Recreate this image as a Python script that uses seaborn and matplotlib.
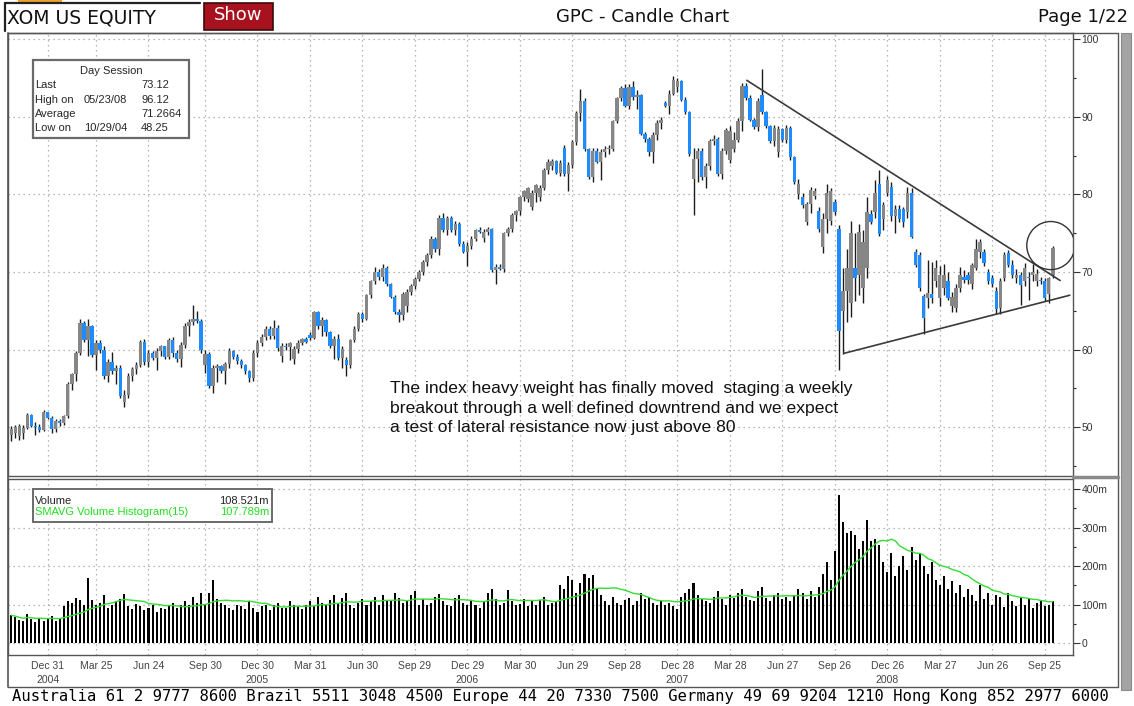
import matplotlib
matplotlib.use("Agg")
import matplotlib.pyplot as plt
from matplotlib.lines import Line2D
from matplotlib.patches import Rectangle, Ellipse
import numpy as np
import pandas as pd
import seaborn as sns

# weekly XOM candles, week 0 = 29 Oct 2004
open_ = [
    49.0, 49.2, 48.9, 49.3, 49.9, 51.5, 50.2, 50.0, 49.6, 51.9,
    51.2, 49.8, 50.8, 50.5, 51.4, 55.5, 56.8, 59.5, 63.4, 61.2,
    63.0, 59.3, 60.8, 59.9, 56.6, 58.4, 57.2, 57.6, 53.2, 54.2,
    56.6, 57.5, 58.0, 61.0, 58.4, 59.6, 58.9, 59.8, 60.4, 59.0,
    61.2, 59.6, 58.8, 60.6, 63.0, 63.6, 64.0, 63.7, 58.0, 59.4,
    55.3, 57.6, 57.9, 57.2, 58.2, 59.8, 59.1, 58.5, 58.0, 57.2,
    56.3, 59.6, 60.9, 61.6, 62.7, 61.7, 62.8, 59.2, 60.4, 60.3,
    58.8, 60.1, 60.9, 61.3, 61.9, 61.5, 64.8, 63.0, 63.8, 62.2,
    60.5, 61.4, 58.9, 58.7, 58.0, 61.2, 62.6, 64.6, 64.0, 67.0,
    68.8, 70.0, 69.3, 70.5, 68.4, 66.8, 64.8, 64.4, 65.6, 67.4,
    68.2, 69.1, 70.0, 71.3, 72.2, 74.3, 73.0, 77.0, 75.4, 76.9,
    75.4, 76.2, 73.6, 72.6, 73.4, 74.3, 75.4, 74.4, 75.2, 75.5,
    70.2, 70.6, 70.4, 75.0, 75.6, 77.3, 77.8, 79.6, 79.4, 78.4,
    80.2, 79.6, 80.8, 83.2, 83.6, 84.3, 82.8, 86.0, 82.6, 83.8,
    86.8, 90.5, 92.0, 85.8, 82.2, 85.6, 84.2, 85.4, 85.8, 85.9,
    89.4, 92.4, 93.7, 91.4, 93.9, 92.5, 92.8, 87.8, 87.2, 85.4,
    87.6, 89.2, 91.8, 91.4, 93.0, 93.8, 94.6, 92.2, 90.6, 82.0,
    84.6, 85.6, 82.2, 83.6, 86.9, 87.2, 82.6, 85.6, 84.4, 85.8,
    87.0, 89.4, 94.0, 92.4, 89.6, 88.7, 92.8, 90.6, 88.8, 86.9,
    85.4, 88.4, 87.0, 88.6, 84.8, 80.0, 79.6, 76.4, 78.8, 79.8,
    77.9, 73.2, 76.8, 76.6, 79.0, 75.6, 65.0, 67.5, 66.0, 70.5,
    69.6, 67.9, 70.5, 77.5, 77.7, 81.3, 76.8, 80.2, 81.0, 77.2,
    78.1, 78.1, 77.7, 80.2, 72.6, 72.2, 66.9, 66.7, 67.1, 68.8,
    66.7, 67.9, 68.8, 65.6, 65.4, 67.9, 69.4, 69.6, 68.4, 70.5,
    72.6, 72.6, 70.0, 69.2, 67.5, 65.4, 69.2, 72.4, 70.9, 69.2,
    69.6, 68.8, 69.4, 69.6, 68.8, 69.0, 68.8, 67.1, 69.6,
]
high = [
    50.2, 50.3, 50.4, 50.3, 51.8, 51.7, 50.6, 50.4, 52.2, 52.0,
    51.4, 51.0, 51.1, 51.6, 55.8, 57.0, 59.8, 64.0, 63.7, 64.0,
    63.2, 61.2, 61.2, 60.4, 58.8, 59.7, 58.0, 58.0, 54.8, 57.0,
    57.8, 58.4, 61.2, 61.3, 60.0, 59.8, 60.2, 60.6, 60.5, 61.5,
    61.6, 59.9, 61.0, 63.4, 64.0, 65.8, 65.0, 63.9, 60.0, 59.7,
    58.0, 58.2, 58.0, 58.4, 60.2, 60.0, 59.4, 58.8, 58.2, 57.4,
    60.0, 61.2, 62.0, 63.0, 63.0, 63.8, 63.2, 60.8, 60.8, 61.0,
    60.4, 61.2, 61.5, 61.6, 62.2, 65.0, 65.0, 64.2, 64.0, 62.4,
    61.8, 62.0, 60.4, 59.0, 61.4, 63.0, 64.8, 64.9, 67.2, 69.0,
    70.6, 70.4, 71.0, 70.8, 68.6, 67.0, 65.2, 67.4, 67.8, 68.4,
    69.4, 70.2, 71.6, 72.4, 74.6, 74.5, 77.4, 77.6, 77.2, 77.2,
    76.6, 76.4, 74.0, 73.8, 74.6, 75.6, 75.8, 75.6, 75.8, 75.7,
    71.0, 71.0, 75.2, 75.8, 77.6, 78.0, 79.8, 80.6, 81.0, 80.6,
    81.4, 81.2, 83.4, 84.6, 84.6, 84.4, 84.4, 86.4, 84.2, 87.0,
    90.8, 93.6, 92.4, 86.0, 86.0, 86.0, 85.8, 86.2, 86.4, 89.6,
    92.6, 94.0, 94.2, 94.2, 94.6, 93.4, 93.0, 88.0, 87.4, 88.0,
    89.6, 90.0, 92.0, 93.4, 95.2, 95.0, 94.8, 92.6, 90.8, 86.0,
    86.0, 86.0, 84.0, 87.2, 87.6, 87.4, 86.0, 88.6, 88.8, 88.0,
    89.8, 94.4, 94.4, 92.8, 89.8, 92.4, 96.12, 90.8, 89.0, 89.0,
    88.8, 88.6, 89.0, 88.8, 85.0, 82.0, 80.2, 79.0, 81.0, 80.8,
    78.4, 77.6, 81.4, 80.8, 79.4, 76.0, 70.5, 73.0, 76.6, 75.0,
    76.2, 75.4, 79.6, 78.0, 81.9, 83.2, 79.0, 82.4, 81.6, 78.6,
    78.6, 78.4, 81.0, 80.8, 73.0, 72.6, 67.2, 71.6, 71.3, 71.6,
    70.8, 71.0, 70.0, 67.4, 68.4, 70.6, 70.2, 70.0, 71.2, 74.3,
    74.2, 73.0, 70.4, 69.6, 68.0, 69.2, 72.6, 72.8, 71.6, 70.4,
    70.0, 71.2, 70.0, 71.0, 70.4, 69.4, 69.2, 69.4, 73.3,
]
low = [
    48.25, 48.6, 48.4, 48.5, 49.7, 50.0, 49.0, 49.4, 49.5, 51.0,
    49.3, 49.4, 50.2, 50.3, 51.2, 54.8, 56.0, 59.3, 61.0, 59.2,
    59.0, 57.4, 59.6, 56.2, 55.8, 56.8, 55.5, 53.8, 52.6, 53.8,
    56.0, 56.8, 57.8, 58.0, 57.8, 58.6, 57.4, 59.2, 58.8, 58.8,
    59.0, 58.4, 57.8, 60.2, 61.8, 63.2, 63.4, 59.6, 57.0, 55.0,
    54.4, 55.8, 57.0, 55.6, 57.6, 58.8, 58.2, 57.6, 56.8, 55.8,
    56.0, 59.0, 60.4, 61.2, 61.4, 61.4, 59.8, 58.4, 60.0, 58.6,
    58.2, 59.6, 60.6, 60.8, 61.2, 61.3, 62.6, 61.8, 61.8, 60.2,
    58.8, 58.6, 57.6, 56.6, 57.6, 61.0, 62.4, 63.6, 63.8, 66.6,
    68.4, 69.0, 68.8, 68.2, 66.6, 64.6, 63.5, 63.8, 64.8, 67.0,
    67.8, 68.8, 69.6, 70.8, 71.8, 72.6, 72.2, 75.2, 74.8, 75.2,
    74.8, 73.4, 72.4, 70.8, 73.0, 74.0, 75.0, 73.8, 74.8, 70.0,
    68.5, 70.2, 70.0, 74.6, 75.2, 76.6, 77.4, 79.2, 79.0, 78.0,
    79.0, 79.2, 80.6, 82.6, 83.2, 82.6, 82.4, 82.4, 80.4, 83.4,
    86.4, 89.4, 85.6, 82.0, 81.6, 84.0, 81.8, 84.8, 85.2, 85.6,
    89.2, 92.0, 91.2, 91.0, 92.2, 91.0, 87.6, 86.8, 85.0, 84.0,
    87.0, 88.4, 91.2, 90.4, 92.8, 93.2, 92.0, 90.4, 85.0, 77.4,
    81.6, 81.8, 80.8, 83.2, 86.4, 82.4, 82.0, 85.2, 84.0, 85.4,
    86.8, 88.2, 92.2, 89.4, 88.4, 88.2, 90.4, 88.6, 86.6, 86.2,
    84.8, 86.8, 86.6, 84.4, 81.4, 79.4, 78.2, 76.0, 77.6, 79.4,
    75.2, 72.4, 75.0, 76.0, 77.4, 57.3, 59.4, 63.5, 64.2, 66.2,
    67.0, 66.0, 69.2, 76.2, 77.0, 74.6, 75.4, 79.8, 76.6, 75.0,
    76.4, 75.8, 77.0, 74.4, 70.6, 67.6, 62.0, 65.4, 66.0, 68.0,
    65.6, 67.0, 66.4, 64.8, 64.8, 67.4, 68.6, 68.4, 67.8, 70.2,
    71.8, 70.8, 68.4, 68.0, 64.6, 64.6, 68.8, 70.6, 69.2, 68.6,
    65.8, 68.2, 66.4, 68.8, 68.2, 68.4, 66.2, 66.0, 69.2,
]
close = [
    49.8, 50.0, 50.1, 49.9, 51.5, 50.2, 50.0, 49.6, 51.9, 51.2,
    49.8, 50.8, 50.5, 51.4, 55.5, 56.8, 59.5, 63.4, 61.2, 63.0,
    59.3, 60.8, 59.9, 56.6, 58.4, 57.2, 57.6, 54.0, 54.2, 56.6,
    57.5, 58.0, 61.0, 58.4, 59.6, 58.9, 59.8, 60.4, 59.0, 61.2,
    59.6, 58.8, 60.6, 63.0, 63.6, 64.0, 63.7, 59.9, 59.4, 55.3,
    57.6, 57.9, 57.2, 58.2, 59.8, 59.1, 58.5, 58.0, 57.2, 56.3,
    59.6, 60.9, 61.6, 62.7, 61.7, 62.8, 60.2, 60.4, 60.3, 60.8,
    60.1, 60.9, 61.3, 61.0, 61.5, 64.8, 63.0, 63.8, 62.2, 60.5,
    61.4, 58.9, 60.1, 58.0, 61.2, 62.6, 64.6, 64.0, 67.0, 68.8,
    70.0, 69.3, 70.5, 68.4, 66.8, 64.8, 64.4, 67.2, 67.4, 68.2,
    69.1, 70.0, 71.3, 72.2, 74.3, 73.0, 77.0, 75.4, 76.9, 75.4,
    76.2, 73.6, 72.6, 73.4, 74.3, 75.4, 75.2, 75.2, 75.5, 70.2,
    70.6, 70.4, 75.0, 75.6, 77.3, 77.8, 79.6, 80.4, 80.8, 80.2,
    81.2, 80.8, 83.2, 84.2, 84.3, 82.8, 84.0, 82.6, 83.8, 86.8,
    90.5, 92.0, 85.8, 82.2, 85.6, 84.2, 85.4, 85.8, 85.9, 89.4,
    92.4, 93.7, 91.4, 93.9, 92.5, 92.8, 87.8, 87.2, 85.4, 87.6,
    89.2, 89.6, 91.4, 93.0, 94.8, 94.6, 92.2, 90.6, 85.2, 84.6,
    85.6, 82.2, 83.6, 86.9, 87.2, 82.6, 85.6, 88.3, 88.2, 87.0,
    89.4, 94.0, 92.4, 89.6, 88.7, 92.0, 90.6, 88.8, 86.9, 88.6,
    88.4, 87.0, 88.6, 84.8, 81.6, 81.4, 78.6, 78.8, 80.6, 80.4,
    75.6, 76.8, 80.2, 80.4, 77.7, 62.4, 67.5, 70.5, 75.0, 69.2,
    75.1, 73.9, 77.7, 76.4, 80.2, 74.9, 78.6, 81.9, 77.2, 78.1,
    76.8, 76.4, 80.2, 74.5, 70.9, 67.9, 64.1, 67.3, 66.7, 70.5,
    69.6, 69.6, 66.7, 66.8, 67.9, 69.6, 69.0, 69.0, 70.9, 73.0,
    73.9, 71.1, 68.8, 68.4, 65.2, 68.8, 72.2, 70.9, 69.6, 69.6,
    68.3, 70.5, 69.2, 70.0, 69.8, 68.8, 66.7, 69.2, 73.12,
]
# weekly volume, millions of shares
volume = [
    72, 68, 60, 58, 75, 62, 55, 66, 58, 62, 70, 56, 64,
    95, 110, 105, 118, 112, 100, 170,
    112, 98, 105, 125, 92, 100, 108, 115, 128, 95, 88, 102, 96,
    85, 90, 98, 80, 92, 88, 95, 105, 90, 100, 110, 98, 120, 105, 130, 100,
    130, 165, 115, 105,
    98, 90, 85, 100, 95, 88, 110, 92, 80, 95, 100, 85, 98, 105, 90, 92, 110, 100, 95, 88,
    100, 110, 95, 120, 105, 98, 112, 125, 105, 118, 130, 100, 92, 105, 115, 98, 110, 120,
    100, 125, 108, 112, 130, 118, 105,
    110, 125, 135, 100, 115, 98, 105, 120, 128,
    110, 100, 95, 118, 125, 105, 98, 110, 100, 92, 108, 130, 140, 115, 100, 105, 138, 110,
    98, 102, 115, 95, 108, 100, 112, 120, 98, 105, 110,
    150, 140, 175, 165, 130, 155, 180, 170, 178, 140, 125,
    110, 100, 120, 105, 98, 112, 118, 100, 108, 130, 115, 120, 105, 98, 110, 100, 105, 95,
    88, 120, 130, 140, 155, 125, 115,
    110, 105, 120, 135, 115, 100, 125, 118, 130, 140, 120, 112, 108, 135, 145, 118, 110,
    125, 130, 115, 120, 110, 125, 140, 130, 115, 135, 120,
    145, 180, 210, 165, 240,
    385, 315, 285, 290, 280, 245, 265, 320, 265, 270, 255, 210, 185, 235, 175, 200, 225,
    190, 250, 215, 235,
    200, 180, 210, 165, 150, 175, 140, 160, 130, 150, 120, 140, 125, 110, 150, 115, 130,
    100, 125, 120, 93, 130, 110, 95, 120, 100, 115, 90, 105, 110, 95, 100, 108.5,
]
assert len(open_) == len(high) == len(low) == len(close) == len(volume) == 259

tick_weeks = [9, 21, 34, 48, 61, 74, 87, 100, 113, 126, 139, 152, 165, 178, 191,
              204, 217, 230, 243, 256]
tick_dates = ["Dec 31", "Mar 25", "Jun 24", "Sep 30", "Dec 30", "Mar 31", "Jun 30",
              "Sep 29", "Dec 29", "Mar 30", "Jun 29", "Sep 28", "Dec 28", "Mar 28",
              "Jun 27", "Sep 26", "Dec 26", "Mar 27", "Jun 26", "Sep 25"]
year_labels = {9: "2004", 61: "2005", 113: "2006", 165: "2007", 217: "2008"}

# hand-drawn trend lines and circle (week, price)
upper_trend = ([182.2, 259.8], [94.7, 68.9])
lower_trend = ([206.2, 262.2], [59.5, 67.0])
circle_center = (257.5, 73.4)

note = ("The index heavy weight has finally moved  staging a weekly\n"
        "breakout through a well defined downtrend and we expect\n"
        "a test of lateral resistance now just above 80")
footer = ("Australia 61 2 9777 8600 Brazil 5511 3048 4500 Europe 44 20 7330 7500 "
          "Germany 49 69 9204 1210 Hong Kong 852 2977 6000")

df = pd.DataFrame({"week": np.arange(len(close)), "open": open_, "high": high,
                   "low": low, "close": close, "volume": volume})
df["sma"] = df["volume"].rolling(15, min_periods=1).mean()

sns.set_style("white")
plt.rcParams["font.family"] = ["Liberation Sans", "DejaVu Sans"]

W, H = 1134, 706
fig = plt.figure(figsize=(W / 100, H / 100), dpi=100)


def fx(x):
    return x / W


def fy(y):
    return 1 - y / H


def fline(xs, ys, **kw):
    fig.add_artist(Line2D([fx(x) for x in xs], [fy(y) for y in ys], **kw))


def frect(x0, y0, x1, y1, **kw):
    fig.add_artist(Rectangle((fx(x0), fy(y1)), fx(x1) - fx(x0), fy(y0) - fy(y1), **kw))


ax = fig.add_axes([fx(8), fy(476), fx(1073) - fx(8), fy(33) - fy(476)])
axv = fig.add_axes([fx(8), fy(655), fx(1073) - fx(8), fy(479) - fy(655)])

grid_kw = dict(color="#a0a0a0", linestyle=(0, (1, 3)), linewidth=0.9)

# --- price panel
up = df["close"] >= df["open"]
body_lo = np.minimum(df["open"], df["close"])
body_h = np.maximum((df["close"] - df["open"]).abs(), 0.2)
ax.vlines(df["week"], df["low"], df["high"], colors="#1c1c1c", linewidth=1.0, zorder=2)
ax.bar(df["week"], body_h, bottom=body_lo, width=0.85,
       color=np.where(up, "#868686", "#1e8cff"), linewidth=0, zorder=3)

ax.plot(*upper_trend, color="#3a3a3a", lw=1.2, zorder=4)
ax.plot(*lower_trend, color="#3a3a3a", lw=1.2, zorder=4)
ax.add_patch(Ellipse(circle_center, width=11.9, height=6.2, fill=False,
                     edgecolor="#333333", lw=1.0, zorder=4))

ax.set_xlim(-0.8, 263)
ax.set_ylim(43.7, 100.8)
ax.yaxis.tick_right()
ax.set_yticks([50, 60, 70, 80, 90, 100])
ax.set_yticks([45, 55, 65, 75, 85, 95], minor=True)
ax.set_xticks(tick_weeks)
ax.tick_params(axis="x", bottom=False, labelbottom=False)
ax.tick_params(axis="y", which="major", direction="out", length=5, width=0.8,
               labelsize=7.5, colors="#333333", pad=1)
ax.tick_params(axis="y", which="minor", direction="out", length=2.5, width=0.8)
ax.grid(True, which="major", **grid_kw)
ax.set_axisbelow(True)
for s in ax.spines.values():
    s.set_color("#555555")
    s.set_linewidth(1.0)

fig.text(fx(390), fy(381), note, fontsize=12.6, va="top", ha="left",
         linespacing=1.38, color="#111111")

# info box
frect(33, 60, 189, 138, transform=fig.transFigure, facecolor="white",
      edgecolor="#6a6a6a", lw=1.6, zorder=5)
fig.text(fx(111), fy(71), "Day Session", fontsize=8, ha="center", va="center", zorder=6)
rows = [("Last", "", "73.12"), ("High on", "05/23/08", "96.12"),
        ("Average", "", "71.2664"), ("Low on", "10/29/04", "48.25")]
for i, (a, b, c) in enumerate(rows):
    yy = fy(85.5 + i * 14.3)
    fig.text(fx(35), yy, a, fontsize=8, va="center", zorder=6)
    fig.text(fx(84), yy, b, fontsize=8, va="center", zorder=6)
    fig.text(fx(141), yy, c, fontsize=8, va="center", zorder=6)

# --- volume panel
sns.barplot(x=df["week"], y=df["volume"], native_scale=True, color="black",
            width=0.5, errorbar=None, saturation=1, linewidth=0, ax=axv, zorder=3)
sns.lineplot(x=df["week"], y=df["sma"], color="#33dd33", lw=1.0, ax=axv, zorder=4)

axv.set_xlim(-0.8, 263)
axv.set_ylim(-31, 426)
axv.set_xlabel("")
axv.set_ylabel("")
axv.yaxis.tick_right()
axv.set_yticks([0, 100, 200, 300, 400])
axv.set_yticklabels(["0", "100m", "200m", "300m", "400m"])
axv.set_yticks([50, 150, 250, 350], minor=True)
axv.set_xticks(tick_weeks)
axv.set_xticklabels([d + ("\n" + year_labels[w] if w in year_labels else "\n")
                     for w, d in zip(tick_weeks, tick_dates)])
for lbl in axv.get_xticklabels():
    lbl.set_linespacing(1.45)
axv.tick_params(axis="y", which="major", direction="out", length=5, width=0.8,
                labelsize=7.5, colors="#333333", pad=1)
axv.tick_params(axis="y", which="minor", direction="out", length=2.5, width=0.8)
axv.tick_params(axis="x", direction="out", length=3, labelsize=7.5, colors="#444444",
                pad=1.5)
axv.grid(True, which="major", **grid_kw)
axv.set_axisbelow(True)
for s in axv.spines.values():
    s.set_color("#555555")
    s.set_linewidth(1.0)

frect(33, 489, 272, 522, transform=fig.transFigure, facecolor="white",
      edgecolor="#6a6a6a", lw=1.4, zorder=5)
fig.text(fx(35), fy(500.5), "Volume", fontsize=8, va="center", zorder=6)
fig.text(fx(269), fy(500.5), "108.521m", fontsize=8, va="center", ha="right", zorder=6)
fig.text(fx(35), fy(512), "SMAVG Volume Histogram(15)", fontsize=8, va="center",
         color="#22dd22", zorder=6)
fig.text(fx(269), fy(512), "107.789m", fontsize=8, va="center", ha="right",
         color="#22dd22", zorder=6)

# --- frame and header
fline([8, 1118], [33, 33], color="#555555", lw=1.0)
fline([8, 8], [33, 687], color="#555555", lw=1.2)
fline([1118, 1118], [33, 687], color="#555555", lw=1.0)
fline([8, 1118], [687, 687], color="#555555", lw=1.0)
fline([1073, 1118], [477, 477], color="#8a8a8a", lw=2.5)
frect(1121, 33, 1131, 690, transform=fig.transFigure, facecolor="#a4a4a4",
      edgecolor="#8a8a8a", lw=0.8)
frect(18, 0, 62, 3, transform=fig.transFigure, facecolor="#f0a030", edgecolor="none")

fline([5, 200], [3, 3], color="#222222", lw=1.6)
fline([5, 5], [3, 31], color="#222222", lw=1.6)
fig.text(fx(7), fy(17.5), "XOM US EQUITY", fontsize=13.5, va="center",
         family="DejaVu Sans", color="#111111")
frect(204, 3, 273, 30, transform=fig.transFigure, facecolor="#a8111e",
      edgecolor="#3a0a0a", lw=1.2)
fig.text(fx(238.5), fy(15.5), "Show", fontsize=13, va="center", ha="center",
         color="white", family="DejaVu Sans")
fig.text(fx(643), fy(17.5), "GPC - Candle Chart", fontsize=13, va="center",
         ha="center", family="DejaVu Sans", color="#111111")
fig.text(fx(1128), fy(17.5), "Page 1/22", fontsize=13, va="center", ha="right",
         family="DejaVu Sans", color="#111111")
fig.text(fx(12), fy(697), footer, fontsize=11.2, va="center", ha="left",
         family="DejaVu Sans Mono", color="#000000")

fig.savefig("out.png", dpi=100)
